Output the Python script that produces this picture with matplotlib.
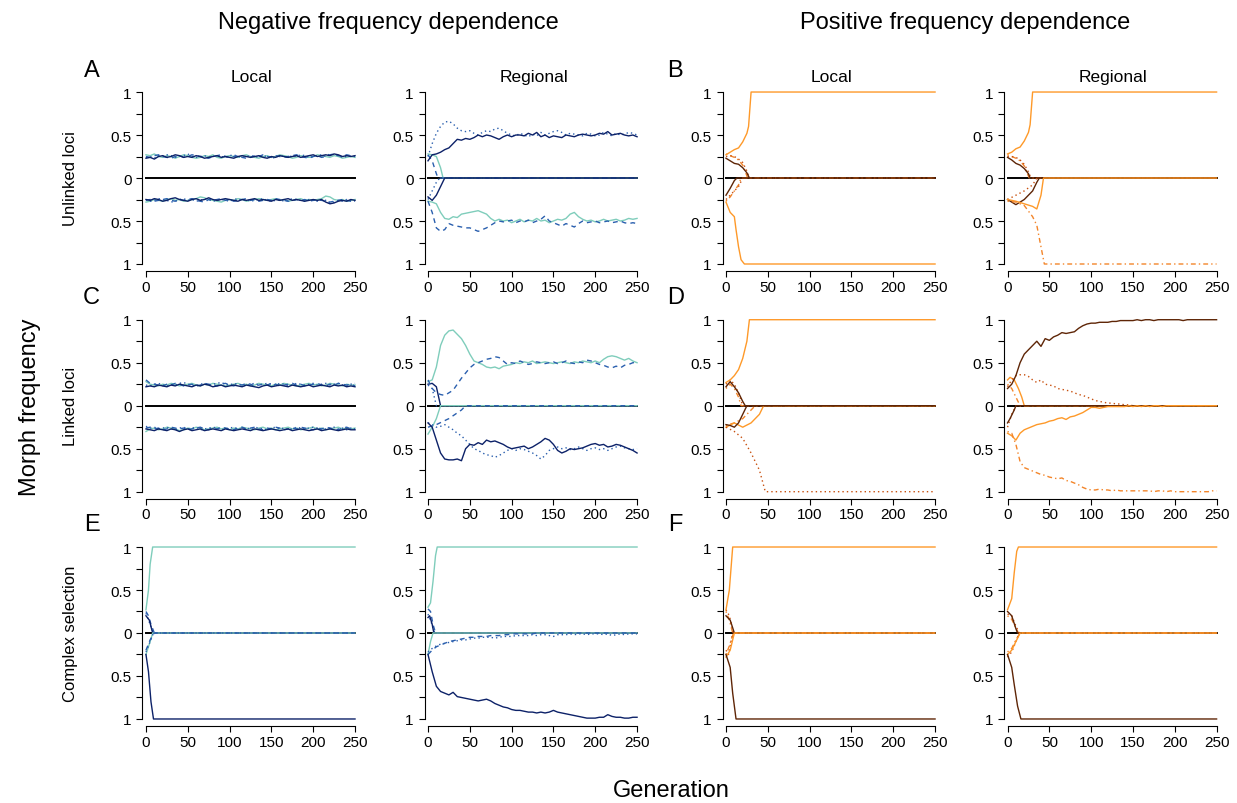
import numpy as np
import matplotlib.pyplot as plt

plt.rcParams['font.family'] = ['Liberation Sans', 'DejaVu Sans']

# generation grid for the noisy series (every 5 generations)
G5 = np.arange(0, 251, 5)

# colours / line styles of the four morphs
teal, blue, navy = '#7fcdbb', '#2a5fae', '#0c2168'
orange, orange2, dorange, brown = '#fe9929', '#f3852a', '#c8500f', '#5e2506'
DASH = (0, (3.5, 3))
DOT = (0, (1, 2.2))
DASHDOT = (0, (1, 2.2, 3.5, 2.2))
NFD = {'m1': (teal, '-'), 'm2': (blue, DASH), 'm3': (blue, DOT), 'm4': (navy, '-')}
PFD = {'m1': (orange, '-'), 'm2': (orange2, DASHDOT), 'm3': (dorange, DOT), 'm4': (brown, '-')}

# ---------------- A: NFD, unlinked, local ----------------
a_loc_top_m1 = [0.27,0.26,0.28,0.25,0.24,0.26,0.25,0.23,0.25,0.27, 0.26,0.24,0.23,0.24,0.26,0.25,0.27,0.24,0.23,0.25,
                0.26,0.25,0.24,0.26,0.27,0.25,0.24,0.23,0.25,0.26, 0.24,0.25,0.27,0.26,0.25,0.23,0.24,0.26,0.25,0.24,
                0.25,0.27,0.26,0.25,0.24,0.26,0.25,0.23,0.24,0.25, 0.24]
a_loc_top_m2 = [0.25,0.24,0.26,0.27,0.25,0.24,0.23,0.25,0.26,0.24, 0.25,0.27,0.26,0.25,0.24,0.23,0.25,0.26,0.27,0.25,
                0.24,0.25,0.26,0.24,0.23,0.24,0.26,0.25,0.27,0.25, 0.24,0.26,0.25,0.24,0.25,0.26,0.27,0.25,0.24,0.23,
                0.25,0.26,0.24,0.25,0.27,0.28,0.26,0.25,0.27,0.26, 0.25]
a_loc_top_m3 = [0.24,0.25,0.23,0.26,0.25,0.27,0.26,0.24,0.25,0.26, 0.28,0.25,0.24,0.25,0.26,0.24,0.25,0.26,0.25,0.24,
                0.26,0.27,0.25,0.24,0.25,0.26,0.25,0.24,0.26,0.25, 0.23,0.24,0.26,0.25,0.24,0.26,0.25,0.27,0.26,0.24,
                0.25,0.26,0.27,0.25,0.28,0.27,0.26,0.24,0.25,0.26, 0.25]
a_loc_top_m4 = [0.23,0.24,0.22,0.25,0.26,0.24,0.25,0.27,0.26,0.24, 0.25,0.24,0.26,0.25,0.23,0.24,0.25,0.26,0.24,0.25,
                0.24,0.23,0.25,0.26,0.25,0.24,0.25,0.26,0.24,0.23, 0.25,0.24,0.26,0.25,0.24,0.25,0.26,0.24,0.25,0.26,
                0.27,0.25,0.26,0.27,0.26,0.28,0.27,0.25,0.26,0.25, 0.26]
a_loc_bot_m1 = [0.28,0.27,0.25,0.26,0.27,0.25,0.24,0.26,0.25,0.27, 0.26,0.25,0.24,0.22,0.23,0.25,0.26,0.27,0.28,0.26,
                0.25,0.26,0.24,0.25,0.27,0.26,0.25,0.24,0.25,0.26, 0.25,0.24,0.26,0.25,0.27,0.26,0.25,0.24,0.26,0.25,
                0.26,0.25,0.24,0.21,0.22,0.25,0.26,0.25,0.27,0.26, 0.25]
a_loc_bot_m2 = [0.26,0.25,0.27,0.26,0.25,0.24,0.26,0.27,0.25,0.26, 0.25,0.24,0.26,0.27,0.28,0.25,0.26,0.25,0.24,0.26,
                0.25,0.27,0.26,0.25,0.24,0.26,0.25,0.27,0.26,0.25, 0.26,0.24,0.25,0.26,0.27,0.26,0.25,0.26,0.25,0.27,
                0.26,0.25,0.26,0.27,0.28,0.27,0.26,0.25,0.26,0.27, 0.26]
a_loc_bot_m3 = [0.25,0.27,0.26,0.24,0.25,0.26,0.28,0.27,0.25,0.24, 0.26,0.25,0.27,0.26,0.24,0.25,0.27,0.26,0.25,0.26,
                0.27,0.25,0.24,0.26,0.25,0.27,0.26,0.25,0.24,0.26, 0.27,0.26,0.25,0.27,0.26,0.24,0.25,0.26,0.27,0.25,
                0.26,0.27,0.25,0.26,0.29,0.28,0.26,0.27,0.25,0.26, 0.27]
a_loc_bot_m4 = [0.25,0.26,0.24,0.25,0.27,0.26,0.24,0.23,0.25,0.26, 0.27,0.25,0.24,0.26,0.25,0.23,0.25,0.26,0.25,0.24,
                0.25,0.26,0.27,0.25,0.26,0.25,0.24,0.26,0.25,0.26, 0.27,0.25,0.26,0.25,0.24,0.26,0.25,0.26,0.27,0.26,
                0.25,0.26,0.25,0.28,0.30,0.29,0.27,0.26,0.27,0.25, 0.26]

# ---------------- A: NFD, unlinked, regional ----------------
a_reg_top_m4 = [0.20,0.27,0.28,0.30,0.33,0.35,0.40,0.45,0.44,0.46, 0.45,0.47,0.50,0.48,0.50,0.49,0.47,0.45,0.48,0.50,
                0.48,0.50,0.50,0.49,0.52,0.50,0.53,0.48,0.50,0.47, 0.49,0.48,0.47,0.50,0.49,0.48,0.50,0.51,0.50,0.49,
                0.50,0.52,0.51,0.54,0.50,0.51,0.52,0.50,0.49,0.50, 0.48]
a_reg_top_m3 = [0.25,0.40,0.52,0.60,0.65,0.66,0.63,0.58,0.55,0.54, 0.55,0.52,0.50,0.53,0.55,0.54,0.57,0.58,0.55,0.52,
                0.50,0.49,0.52,0.50,0.48,0.51,0.49,0.53,0.50,0.52, 0.54,0.55,0.53,0.50,0.52,0.51,0.50,0.49,0.52,0.51,
                0.49,0.50,0.53,0.51,0.49,0.52,0.50,0.51,0.53,0.52, 0.50]
a_reg_top_m1_x, a_reg_top_m1 = [0, 5, 10, 15, 18, 250], [0.28, 0.27, 0.25, 0.12, 0, 0]
a_reg_top_m2_x, a_reg_top_m2 = [0, 5, 10, 12, 250], [0.27, 0.20, 0.05, 0, 0]
a_reg_bot_m1 = [0.27,0.28,0.30,0.40,0.47,0.48,0.45,0.46,0.42,0.41, 0.40,0.39,0.38,0.40,0.42,0.47,0.50,0.48,0.50,0.49,
                0.52,0.50,0.48,0.51,0.49,0.50,0.47,0.50,0.49,0.52, 0.50,0.48,0.49,0.47,0.42,0.40,0.45,0.48,0.50,0.49,
                0.51,0.50,0.48,0.50,0.49,0.48,0.50,0.49,0.47,0.48, 0.47]
a_reg_bot_m2 = [0.27,0.40,0.58,0.62,0.60,0.53,0.55,0.56,0.57,0.58, 0.58,0.60,0.62,0.60,0.58,0.55,0.52,0.50,0.51,0.50,
                0.49,0.52,0.50,0.51,0.49,0.52,0.50,0.48,0.44,0.50, 0.52,0.54,0.56,0.53,0.55,0.57,0.53,0.50,0.52,0.51,
                0.50,0.52,0.51,0.50,0.52,0.51,0.50,0.52,0.53,0.52, 0.53]
a_reg_bot_m4_x, a_reg_bot_m4 = [0, 5, 10, 15, 20, 250], [0.22, 0.26, 0.20, 0.10, 0, 0]
a_reg_bot_m3_x, a_reg_bot_m3 = [0, 5, 10, 14, 250], [0.25, 0.15, 0.05, 0, 0]

# ---------------- B: PFD, unlinked ----------------
b_loc_top_m1_x, b_loc_top_m1 = [0, 5, 10, 15, 20, 25, 27, 30, 250], [0.27, 0.30, 0.33, 0.35, 0.42, 0.52, 0.60, 1, 1]
b_loc_top_m4_x, b_loc_top_m4 = [0, 5, 10, 15, 20, 25, 28, 250], [0.23, 0.20, 0.17, 0.16, 0.12, 0.06, 0, 0]
b_loc_top_m3_x, b_loc_top_m3 = [0, 5, 10, 15, 20, 25, 28, 250], [0.25, 0.26, 0.25, 0.22, 0.18, 0.08, 0, 0]
b_loc_top_m2_x, b_loc_top_m2 = [0, 5, 10, 15, 20, 26, 250], [0.28, 0.26, 0.24, 0.21, 0.15, 0, 0]
b_loc_bot_m1_x, b_loc_bot_m1 = [0, 5, 10, 12, 15, 18, 22, 250], [0.28, 0.40, 0.45, 0.60, 0.80, 0.95, 1, 1]
b_loc_bot_m4_x, b_loc_bot_m4 = [0, 5, 10, 13, 250], [0.20, 0.12, 0.03, 0, 0]
b_loc_bot_m3_x, b_loc_bot_m3 = [0, 5, 10, 15, 20, 250], [0.25, 0.20, 0.15, 0.10, 0, 0]
b_loc_bot_m2_x, b_loc_bot_m2 = [0, 5, 10, 15, 18, 250], [0.27, 0.22, 0.15, 0.08, 0, 0]

b_reg_top_m1_x, b_reg_top_m1 = [0, 5, 10, 15, 20, 25, 27, 30, 250], [0.28, 0.30, 0.34, 0.36, 0.43, 0.53, 0.62, 1, 1]
b_reg_top_m4_x, b_reg_top_m4 = [0, 5, 10, 15, 20, 25, 27, 250], [0.24, 0.21, 0.17, 0.15, 0.11, 0.05, 0, 0]
b_reg_top_m3_x, b_reg_top_m3 = [0, 5, 10, 15, 20, 25, 28, 250], [0.25, 0.25, 0.24, 0.21, 0.16, 0.07, 0, 0]
b_reg_top_m2_x, b_reg_top_m2 = [0, 5, 10, 15, 20, 26, 250], [0.27, 0.25, 0.23, 0.20, 0.14, 0, 0]
b_reg_bot_m2_x, b_reg_bot_m2 = [0, 10, 20, 30, 35, 40, 44, 250], [0.27, 0.28, 0.32, 0.45, 0.55, 0.80, 1, 1]
b_reg_bot_m1_x, b_reg_bot_m1 = [0, 10, 20, 30, 35, 40, 43, 250], [0.25, 0.27, 0.30, 0.33, 0.36, 0.20, 0, 0]
b_reg_bot_m4_x, b_reg_bot_m4 = [0, 5, 10, 20, 30, 35, 38, 250], [0.25, 0.28, 0.31, 0.25, 0.15, 0.05, 0, 0]
b_reg_bot_m3_x, b_reg_bot_m3 = [0, 10, 20, 30, 35, 250], [0.25, 0.20, 0.15, 0.08, 0, 0]

# ---------------- C: NFD, linked, local ----------------
c_loc_top_m1 = [0.28,0.25,0.24,0.23,0.25,0.24,0.26,0.25,0.23,0.24, 0.25,0.26,0.24,0.23,0.25,0.24,0.26,0.25,0.24,0.23,
                0.24,0.25,0.26,0.24,0.25,0.23,0.24,0.26,0.25,0.24, 0.23,0.25,0.24,0.26,0.25,0.24,0.23,0.24,0.25,0.26,
                0.24,0.25,0.23,0.24,0.26,0.25,0.24,0.23,0.25,0.24, 0.24]
c_loc_top_m2 = [0.30,0.26,0.25,0.24,0.23,0.25,0.24,0.26,0.25,0.23, 0.24,0.25,0.23,0.24,0.26,0.25,0.24,0.23,0.25,0.26,
                0.24,0.23,0.25,0.24,0.26,0.25,0.23,0.24,0.25,0.24, 0.26,0.25,0.23,0.24,0.25,0.26,0.24,0.25,0.23,0.24,
                0.25,0.26,0.24,0.23,0.25,0.24,0.26,0.25,0.24,0.25, 0.23]
c_loc_top_m3 = [0.24,0.23,0.25,0.26,0.24,0.23,0.25,0.24,0.26,0.27, 0.25,0.24,0.23,0.25,0.26,0.24,0.25,0.26,0.27,0.25,
                0.24,0.26,0.25,0.24,0.23,0.25,0.26,0.24,0.25,0.26, 0.25,0.24,0.26,0.25,0.23,0.24,0.26,0.25,0.24,0.25,
                0.26,0.24,0.25,0.26,0.24,0.25,0.26,0.24,0.23,0.25, 0.26]
c_loc_top_m4 = [0.22,0.23,0.22,0.24,0.23,0.22,0.24,0.23,0.25,0.24, 0.23,0.22,0.24,0.23,0.25,0.24,0.22,0.23,0.24,0.22,
                0.23,0.24,0.23,0.22,0.24,0.23,0.22,0.21,0.23,0.24, 0.22,0.23,0.24,0.23,0.22,0.24,0.23,0.22,0.23,0.24,
                0.22,0.23,0.24,0.23,0.22,0.24,0.23,0.24,0.22,0.23, 0.22]
c_loc_bot_m1 = [0.30,0.27,0.26,0.28,0.27,0.25,0.26,0.27,0.29,0.28, 0.26,0.27,0.25,0.26,0.28,0.27,0.26,0.25,0.27,0.26,
                0.28,0.26,0.27,0.25,0.26,0.27,0.28,0.26,0.25,0.27, 0.26,0.28,0.27,0.26,0.25,0.27,0.26,0.28,0.27,0.26,
                0.25,0.27,0.26,0.28,0.27,0.26,0.25,0.27,0.26,0.27, 0.26]
c_loc_bot_m2 = [0.26,0.25,0.27,0.26,0.28,0.27,0.25,0.26,0.27,0.26, 0.28,0.27,0.26,0.25,0.27,0.28,0.26,0.27,0.25,0.26,
                0.27,0.28,0.26,0.25,0.27,0.26,0.25,0.27,0.28,0.26, 0.27,0.25,0.26,0.28,0.27,0.26,0.27,0.25,0.26,0.27,
                0.28,0.26,0.27,0.25,0.26,0.27,0.28,0.26,0.25,0.27, 0.27]
c_loc_bot_m3 = [0.24,0.26,0.25,0.27,0.26,0.25,0.27,0.28,0.26,0.25, 0.27,0.26,0.25,0.28,0.27,0.26,0.25,0.26,0.28,0.27,
                0.26,0.25,0.27,0.28,0.26,0.27,0.25,0.26,0.27,0.28, 0.26,0.25,0.27,0.26,0.28,0.27,0.25,0.26,0.27,0.26,
                0.25,0.26,0.28,0.27,0.26,0.25,0.27,0.26,0.28,0.26, 0.27]
c_loc_bot_m4 = [0.27,0.28,0.29,0.27,0.28,0.29,0.27,0.28,0.30,0.28, 0.27,0.29,0.28,0.27,0.29,0.28,0.27,0.28,0.29,0.27,
                0.28,0.29,0.28,0.27,0.28,0.29,0.27,0.28,0.29,0.28, 0.27,0.28,0.29,0.28,0.27,0.29,0.28,0.27,0.28,0.29,
                0.28,0.27,0.29,0.28,0.27,0.28,0.29,0.28,0.27,0.28, 0.28]

# ---------------- C: NFD, linked, regional ----------------
c_reg_top_m1 = [0.28,0.30,0.45,0.70,0.82,0.87,0.88,0.83,0.78,0.70, 0.60,0.52,0.50,0.48,0.45,0.44,0.45,0.43,0.46,0.47,
                0.48,0.50,0.49,0.51,0.50,0.52,0.49,0.50,0.51,0.50, 0.49,0.50,0.51,0.50,0.49,0.51,0.50,0.52,0.51,0.50,
                0.52,0.50,0.54,0.57,0.58,0.57,0.55,0.53,0.55,0.52, 0.50]
c_reg_top_m2 = [0.30,0.20,0.15,0.13,0.12,0.15,0.18,0.25,0.32,0.38, 0.44,0.48,0.50,0.52,0.54,0.55,0.57,0.56,0.52,0.48,
                0.50,0.49,0.52,0.50,0.48,0.49,0.51,0.50,0.49,0.50, 0.51,0.49,0.50,0.52,0.50,0.49,0.51,0.50,0.53,0.52,
                0.50,0.48,0.47,0.45,0.44,0.46,0.44,0.47,0.48,0.50, 0.50]
c_reg_top_m4_x, c_reg_top_m4 = [0, 5, 10, 15, 250], [0.25, 0.26, 0.22, 0, 0]
c_reg_top_m3_x, c_reg_top_m3 = [0, 5, 10, 250], [0.24, 0.20, 0, 0]
c_reg_bot_m4 = [0.20,0.25,0.40,0.55,0.62,0.63,0.63,0.62,0.64,0.50, 0.45,0.46,0.43,0.45,0.40,0.42,0.41,0.43,0.45,0.48,
                0.50,0.49,0.48,0.47,0.50,0.48,0.45,0.42,0.38,0.40, 0.45,0.52,0.55,0.53,0.50,0.51,0.50,0.49,0.47,0.45,
                0.44,0.46,0.45,0.48,0.47,0.45,0.46,0.48,0.50,0.52, 0.55]
c_reg_bot_m3 = [0.20,0.22,0.25,0.24,0.22,0.25,0.28,0.32,0.35,0.40, 0.45,0.50,0.52,0.55,0.57,0.58,0.60,0.58,0.55,0.52,
                0.50,0.52,0.50,0.51,0.53,0.55,0.58,0.62,0.58,0.52, 0.50,0.48,0.50,0.49,0.51,0.50,0.48,0.50,0.52,0.50,
                0.49,0.51,0.50,0.52,0.50,0.48,0.47,0.49,0.50,0.51, 0.50]
c_reg_bot_m1_x, c_reg_bot_m1 = [0, 5, 10, 15, 250], [0.33, 0.25, 0.15, 0, 0]
c_reg_bot_m2_x, c_reg_bot_m2 = [0, 10, 25, 40, 45, 250], [0.25, 0.22, 0.15, 0.05, 0, 0]

# ---------------- D: PFD, linked ----------------
d_loc_top_m1_x, d_loc_top_m1 = [0, 5, 10, 15, 20, 25, 28, 250], [0.27, 0.30, 0.35, 0.42, 0.55, 0.75, 1, 1]
d_loc_top_m4_x, d_loc_top_m4 = [0, 5, 10, 15, 20, 23, 250], [0.22, 0.28, 0.22, 0.15, 0.05, 0, 0]
d_loc_top_m3_x, d_loc_top_m3 = [0, 5, 10, 15, 20, 250], [0.25, 0.30, 0.25, 0.15, 0, 0]
d_loc_top_m2_x, d_loc_top_m2 = [0, 5, 10, 15, 18, 250], [0.20, 0.25, 0.20, 0.10, 0, 0]
d_loc_bot_m3_x, d_loc_bot_m3 = [0, 10, 20, 30, 40, 47, 250], [0.25, 0.30, 0.38, 0.55, 0.75, 1, 1]
d_loc_bot_m4_x, d_loc_bot_m4 = [0, 5, 10, 15, 20, 25, 250], [0.22, 0.23, 0.25, 0.20, 0.10, 0, 0]
d_loc_bot_m1_x, d_loc_bot_m1 = [0, 10, 20, 30, 40, 45, 250], [0.25, 0.20, 0.25, 0.20, 0.10, 0, 0]
d_loc_bot_m2_x, d_loc_bot_m2 = [0, 10, 20, 30, 35, 250], [0.23, 0.20, 0.15, 0.05, 0, 0]

d_reg_top_m4 = [0.20,0.25,0.35,0.50,0.60,0.65,0.70,0.75,0.69,0.78, 0.76,0.80,0.82,0.85,0.84,0.85,0.86,0.90,0.93,0.95,
                0.96,0.96,0.97,0.97,0.97,0.98,0.98,0.99,0.99,0.99, 0.99,1.00,0.99,1.00,1.00,0.99,1.00,1.00,1.00,1.00,
                1.00,1.00,0.99,1.00,1.00,1.00,1.00,1.00,1.00,1.00, 1.00]
d_reg_top_m3 = [0.22,0.30,0.35,0.36,0.36,0.34,0.30,0.27,0.30,0.25, 0.24,0.23,0.20,0.19,0.18,0.17,0.15,0.13,0.12,0.10,
                0.08,0.06,0.05,0.04,0.03,0.03,0.02,0.02,0.01,0.01, 0.00,0.00,0.00,0.00,0.00,0.00,0.00,0.00,0.00,0.00,
                0.00,0.00,0.00,0.00,0.00,0.00,0.00,0.00,0.00,0.00, 0.00]
d_reg_top_m1_x, d_reg_top_m1 = [0, 3, 8, 13, 17, 20, 250], [0.30, 0.33, 0.30, 0.20, 0.10, 0, 0]
d_reg_top_m2_x, d_reg_top_m2 = [0, 5, 10, 15, 250], [0.25, 0.20, 0.10, 0, 0]
d_reg_bot_m2 = [0.30,0.32,0.45,0.65,0.72,0.74,0.76,0.78,0.80,0.81, 0.83,0.84,0.85,0.84,0.87,0.88,0.90,0.92,0.95,0.97,
                0.98,0.98,0.97,0.98,0.98,0.99,0.98,0.99,0.99,0.99, 0.99,0.99,0.99,0.99,0.99,1.00,0.99,0.99,1.00,0.99,
                1.00,1.00,1.00,1.00,1.00,1.00,1.00,1.00,1.00,0.99, 0.99]
d_reg_bot_m1 = [0.32,0.35,0.40,0.32,0.28,0.26,0.24,0.22,0.21,0.20, 0.18,0.17,0.15,0.14,0.16,0.13,0.12,0.10,0.08,0.05,
                0.02,0.02,0.03,0.02,0.01,0.01,0.01,0.01,0.01,0.00, 0.01,0.00,0.01,0.00,0.01,0.00,0.00,0.01,0.00,0.00,
                0.00,0.00,0.00,0.00,0.00,0.00,0.00,0.00,0.00,0.00, 0.00]
d_reg_bot_m4_x, d_reg_bot_m4 = [0, 3, 8, 10, 250], [0.20, 0.15, 0.05, 0, 0]
d_reg_bot_m3_x, d_reg_bot_m3 = [0, 5, 10, 250], [0.25, 0.10, 0, 0]

# ---------------- E: NFD, complex selection ----------------
e_loc_top_m1_x, e_loc_top_m1 = [0, 3, 5, 8, 250], [0.27, 0.50, 0.80, 1, 1]
e_loc_top_m2_x, e_loc_top_m2 = [0, 3, 6, 10, 250], [0.25, 0.20, 0.10, 0, 0]
e_loc_top_m4_x, e_loc_top_m4 = [0, 4, 8, 250], [0.20, 0.15, 0, 0]
e_loc_top_m3_x, e_loc_top_m3 = [0, 5, 9, 250], [0.23, 0.10, 0, 0]
e_loc_bot_m4_x, e_loc_bot_m4 = [0, 3, 6, 9, 250], [0.25, 0.45, 0.80, 1, 1]
e_loc_bot_m1_x, e_loc_bot_m1 = [0, 5, 8, 250], [0.25, 0.10, 0, 0]
e_loc_bot_m2_x, e_loc_bot_m2 = [0, 5, 10, 250], [0.20, 0.08, 0, 0]
e_loc_bot_m3_x, e_loc_bot_m3 = [0, 5, 9, 250], [0.22, 0.10, 0, 0]

e_reg_top_m1_x, e_reg_top_m1 = [0, 3, 6, 9, 11, 250], [0.30, 0.35, 0.60, 0.90, 1, 1]
e_reg_top_m2_x, e_reg_top_m2 = [0, 3, 6, 9, 250], [0.28, 0.25, 0.10, 0, 0]
e_reg_top_m4_x, e_reg_top_m4 = [0, 2, 5, 7, 250], [0.18, 0.20, 0.10, 0, 0]
e_reg_top_m3_x, e_reg_top_m3 = [0, 4, 8, 250], [0.22, 0.12, 0, 0]
e_reg_bot_m4 = [0.25,0.45,0.62,0.68,0.70,0.72,0.69,0.74,0.75,0.76, 0.77,0.78,0.79,0.78,0.77,0.79,0.82,0.84,0.86,0.87,
                0.89,0.90,0.90,0.91,0.92,0.92,0.93,0.92,0.93,0.92, 0.90,0.92,0.93,0.94,0.95,0.96,0.97,0.98,0.99,0.99,
                0.99,0.98,0.98,0.95,0.97,0.98,0.98,0.99,0.99,0.98, 0.98]
e_reg_bot_m3 = [0.22,0.18,0.15,0.13,0.12,0.11,0.10,0.09,0.08,0.08, 0.07,0.06,0.06,0.05,0.05,0.05,0.06,0.05,0.04,0.04,
                0.04,0.03,0.03,0.03,0.03,0.02,0.03,0.02,0.02,0.03, 0.04,0.02,0.02,0.02,0.01,0.02,0.01,0.01,0.02,0.01,
                0.01,0.01,0.02,0.01,0.03,0.02,0.01,0.02,0.01,0.01, 0.01]
e_reg_bot_m2 = [0.25,0.20,0.16,0.14,0.12,0.10,0.09,0.08,0.07,0.06, 0.05,0.05,0.04,0.04,0.04,0.03,0.03,0.03,0.02,0.02,
                0.01,0.01,0.01,0.01,0.01,0.01,0.00,0.00,0.00,0.00, 0.00,0.00,0.00,0.00,0.00,0.00,0.00,0.00,0.00,0.00,
                0.00,0.00,0.00,0.00,0.00,0.00,0.00,0.00,0.00,0.00, 0.00]
e_reg_bot_m1_x, e_reg_bot_m1 = [0, 3, 6, 250], [0.25, 0.10, 0, 0]

# ---------------- F: PFD, complex selection ----------------
f_loc_top_m1_x, f_loc_top_m1 = [0, 4, 8, 250], [0.27, 0.50, 1, 1]
f_loc_top_m4_x, f_loc_top_m4 = [0, 5, 10, 250], [0.20, 0.15, 0, 0]
f_loc_top_m3_x, f_loc_top_m3 = [0, 4, 9, 250], [0.27, 0.20, 0, 0]
f_loc_top_m2_x, f_loc_top_m2 = [0, 4, 8, 250], [0.25, 0.15, 0, 0]
f_loc_bot_m4_x, f_loc_bot_m4 = [0, 5, 8, 12, 250], [0.25, 0.40, 0.70, 1, 1]
f_loc_bot_m1_x, f_loc_bot_m1 = [0, 5, 10, 250], [0.28, 0.20, 0, 0]
f_loc_bot_m3_x, f_loc_bot_m3 = [0, 3, 8, 250], [0.20, 0.25, 0, 0]
f_loc_bot_m2_x, f_loc_bot_m2 = [0, 4, 9, 250], [0.25, 0.15, 0, 0]

f_reg_top_m1_x, f_reg_top_m1 = [0, 5, 8, 11, 13, 250], [0.27, 0.40, 0.70, 0.95, 1, 1]
f_reg_top_m4_x, f_reg_top_m4 = [0, 5, 10, 12, 250], [0.25, 0.20, 0.05, 0, 0]
f_reg_top_m3_x, f_reg_top_m3 = [0, 5, 10, 14, 250], [0.22, 0.20, 0.08, 0, 0]
f_reg_top_m2_x, f_reg_top_m2 = [0, 5, 10, 13, 250], [0.20, 0.16, 0.06, 0, 0]
f_reg_bot_m4_x, f_reg_bot_m4 = [0, 5, 8, 12, 16, 250], [0.25, 0.40, 0.60, 0.85, 1, 1]
f_reg_bot_m1_x, f_reg_bot_m1 = [0, 5, 10, 15, 250], [0.25, 0.20, 0.10, 0, 0]
f_reg_bot_m3_x, f_reg_bot_m3 = [0, 5, 10, 14, 250], [0.28, 0.22, 0.10, 0, 0]
f_reg_bot_m2_x, f_reg_bot_m2 = [0, 5, 10, 15, 250], [0.22, 0.18, 0.08, 0, 0]

# panel contents: (morph, side, x, values); side +1 = upper half, -1 = lower half
panels = {
    (0, 0): (NFD, [('m1', 1, G5, a_loc_top_m1), ('m2', 1, G5, a_loc_top_m2), ('m3', 1, G5, a_loc_top_m3),
                   ('m4', 1, G5, a_loc_top_m4), ('m1', -1, G5, a_loc_bot_m1), ('m2', -1, G5, a_loc_bot_m2),
                   ('m3', -1, G5, a_loc_bot_m3), ('m4', -1, G5, a_loc_bot_m4)]),
    (0, 1): (NFD, [('m1', 1, a_reg_top_m1_x, a_reg_top_m1), ('m2', 1, a_reg_top_m2_x, a_reg_top_m2),
                   ('m3', 1, G5, a_reg_top_m3), ('m4', 1, G5, a_reg_top_m4),
                   ('m1', -1, G5, a_reg_bot_m1), ('m2', -1, G5, a_reg_bot_m2),
                   ('m3', -1, a_reg_bot_m3_x, a_reg_bot_m3), ('m4', -1, a_reg_bot_m4_x, a_reg_bot_m4)]),
    (0, 2): (PFD, [('m2', 1, b_loc_top_m2_x, b_loc_top_m2), ('m3', 1, b_loc_top_m3_x, b_loc_top_m3),
                   ('m4', 1, b_loc_top_m4_x, b_loc_top_m4), ('m1', 1, b_loc_top_m1_x, b_loc_top_m1),
                   ('m2', -1, b_loc_bot_m2_x, b_loc_bot_m2), ('m3', -1, b_loc_bot_m3_x, b_loc_bot_m3),
                   ('m4', -1, b_loc_bot_m4_x, b_loc_bot_m4), ('m1', -1, b_loc_bot_m1_x, b_loc_bot_m1)]),
    (0, 3): (PFD, [('m2', 1, b_reg_top_m2_x, b_reg_top_m2), ('m3', 1, b_reg_top_m3_x, b_reg_top_m3),
                   ('m4', 1, b_reg_top_m4_x, b_reg_top_m4), ('m1', 1, b_reg_top_m1_x, b_reg_top_m1),
                   ('m3', -1, b_reg_bot_m3_x, b_reg_bot_m3), ('m4', -1, b_reg_bot_m4_x, b_reg_bot_m4),
                   ('m1', -1, b_reg_bot_m1_x, b_reg_bot_m1), ('m2', -1, b_reg_bot_m2_x, b_reg_bot_m2)]),
    (1, 0): (NFD, [('m1', 1, G5, c_loc_top_m1), ('m2', 1, G5, c_loc_top_m2), ('m3', 1, G5, c_loc_top_m3),
                   ('m4', 1, G5, c_loc_top_m4), ('m1', -1, G5, c_loc_bot_m1), ('m2', -1, G5, c_loc_bot_m2),
                   ('m3', -1, G5, c_loc_bot_m3), ('m4', -1, G5, c_loc_bot_m4)]),
    (1, 1): (NFD, [('m4', 1, c_reg_top_m4_x, c_reg_top_m4), ('m3', 1, c_reg_top_m3_x, c_reg_top_m3),
                   ('m1', 1, G5, c_reg_top_m1), ('m2', 1, G5, c_reg_top_m2),
                   ('m1', -1, c_reg_bot_m1_x, c_reg_bot_m1), ('m2', -1, c_reg_bot_m2_x, c_reg_bot_m2),
                   ('m3', -1, G5, c_reg_bot_m3), ('m4', -1, G5, c_reg_bot_m4)]),
    (1, 2): (PFD, [('m2', 1, d_loc_top_m2_x, d_loc_top_m2), ('m3', 1, d_loc_top_m3_x, d_loc_top_m3),
                   ('m4', 1, d_loc_top_m4_x, d_loc_top_m4), ('m1', 1, d_loc_top_m1_x, d_loc_top_m1),
                   ('m2', -1, d_loc_bot_m2_x, d_loc_bot_m2), ('m1', -1, d_loc_bot_m1_x, d_loc_bot_m1),
                   ('m4', -1, d_loc_bot_m4_x, d_loc_bot_m4), ('m3', -1, d_loc_bot_m3_x, d_loc_bot_m3)]),
    (1, 3): (PFD, [('m2', 1, d_reg_top_m2_x, d_reg_top_m2), ('m1', 1, d_reg_top_m1_x, d_reg_top_m1),
                   ('m3', 1, G5, d_reg_top_m3), ('m4', 1, G5, d_reg_top_m4),
                   ('m3', -1, d_reg_bot_m3_x, d_reg_bot_m3), ('m4', -1, d_reg_bot_m4_x, d_reg_bot_m4),
                   ('m1', -1, G5, d_reg_bot_m1), ('m2', -1, G5, d_reg_bot_m2)]),
    (2, 0): (NFD, [('m2', 1, e_loc_top_m2_x, e_loc_top_m2), ('m3', 1, e_loc_top_m3_x, e_loc_top_m3),
                   ('m4', 1, e_loc_top_m4_x, e_loc_top_m4), ('m1', 1, e_loc_top_m1_x, e_loc_top_m1),
                   ('m1', -1, e_loc_bot_m1_x, e_loc_bot_m1), ('m2', -1, e_loc_bot_m2_x, e_loc_bot_m2),
                   ('m3', -1, e_loc_bot_m3_x, e_loc_bot_m3), ('m4', -1, e_loc_bot_m4_x, e_loc_bot_m4)]),
    (2, 1): (NFD, [('m2', 1, e_reg_top_m2_x, e_reg_top_m2), ('m3', 1, e_reg_top_m3_x, e_reg_top_m3),
                   ('m4', 1, e_reg_top_m4_x, e_reg_top_m4), ('m1', 1, e_reg_top_m1_x, e_reg_top_m1),
                   ('m1', -1, e_reg_bot_m1_x, e_reg_bot_m1), ('m2', -1, G5, e_reg_bot_m2),
                   ('m3', -1, G5, e_reg_bot_m3), ('m4', -1, G5, e_reg_bot_m4)]),
    (2, 2): (PFD, [('m2', 1, f_loc_top_m2_x, f_loc_top_m2), ('m3', 1, f_loc_top_m3_x, f_loc_top_m3),
                   ('m4', 1, f_loc_top_m4_x, f_loc_top_m4), ('m1', 1, f_loc_top_m1_x, f_loc_top_m1),
                   ('m2', -1, f_loc_bot_m2_x, f_loc_bot_m2), ('m3', -1, f_loc_bot_m3_x, f_loc_bot_m3),
                   ('m1', -1, f_loc_bot_m1_x, f_loc_bot_m1), ('m4', -1, f_loc_bot_m4_x, f_loc_bot_m4)]),
    (2, 3): (PFD, [('m2', 1, f_reg_top_m2_x, f_reg_top_m2), ('m3', 1, f_reg_top_m3_x, f_reg_top_m3),
                   ('m4', 1, f_reg_top_m4_x, f_reg_top_m4), ('m1', 1, f_reg_top_m1_x, f_reg_top_m1),
                   ('m2', -1, f_reg_bot_m2_x, f_reg_bot_m2), ('m3', -1, f_reg_bot_m3_x, f_reg_bot_m3),
                   ('m1', -1, f_reg_bot_m1_x, f_reg_bot_m1), ('m4', -1, f_reg_bot_m4_x, f_reg_bot_m4)]),
}

ytick_pos = [-1, -0.75, -0.5, -0.25, 0, 0.25, 0.5, 0.75, 1]
ytick_lab = ['1', '', '0.5', '', '0', '', '0.5', '', '1']
xtick_pos = [0, 50, 100, 150, 200, 250]

col_left = [0.1180, 0.3460, 0.5869, 0.8145]
row_bottom = [0.6704, 0.3872, 0.1045]
W, H = 0.1690, 0.2139

fig = plt.figure(figsize=(12.37, 8.04), dpi=100)

for (r, c), (pal, lines) in panels.items():
    ax = fig.add_axes([col_left[c], row_bottom[r], W, H])
    ax.set_xlim(0, 250)
    ax.set_ylim(-1, 1)
    ax.plot([0, 250], [0, 0], color='black', lw=1.4, clip_on=False, zorder=1)
    for morph, side, xs, vals in lines:
        col, ls = pal[morph]
        ax.plot(xs, side * np.array(vals), color=col, linestyle=ls, lw=1.0, clip_on=False, zorder=2)
    ax.spines['top'].set_visible(False)
    ax.spines['right'].set_visible(False)
    ax.spines['left'].set_position(('outward', 2.5))
    ax.spines['bottom'].set_position(('outward', 5))
    ax.spines['left'].set_bounds(-1, 1)
    ax.spines['bottom'].set_bounds(0, 250)
    for s in ('left', 'bottom'):
        ax.spines[s].set_linewidth(0.8)
    ax.set_yticks(ytick_pos)
    ax.set_yticklabels(ytick_lab)
    ax.set_xticks(xtick_pos)
    ax.tick_params(axis='both', direction='out', length=4.3, width=0.8, labelsize=11)
    ax.tick_params(axis='y', pad=3.5)
    ax.tick_params(axis='x', pad=2)

# column titles
for c, name in enumerate(['Local', 'Regional', 'Local', 'Regional']):
    fig.text(col_left[c] + W / 2 + 0.001, 0.904, name, ha='center', va='center', fontsize=12.5)

# row labels
for r, name in enumerate(['Unlinked loci', 'Linked loci', 'Complex selection']):
    fig.text(0.0566, row_bottom[r] + H / 2, name, rotation=90, ha='center', va='center', fontsize=12)

# panel letters
for r, (l1, l2) in enumerate([('A', 'B'), ('C', 'D'), ('E', 'F')]):
    yy = row_bottom[r] + H + 0.028
    fig.text(0.074, yy, l1, ha='center', va='center', fontsize=17)
    fig.text(0.546, yy, l2, ha='center', va='center', fontsize=17)

fig.text(0.314, 0.971, 'Negative frequency dependence', ha='center', va='center', fontsize=17)
fig.text(0.780, 0.971, 'Positive frequency dependence', ha='center', va='center', fontsize=17)
fig.text(0.5424, 0.016, 'Generation', ha='center', va='center', fontsize=17)
fig.text(0.0243, 0.494, 'Morph frequency', rotation=90, ha='center', va='center', fontsize=17)

fig.savefig('out.png', dpi=100)
